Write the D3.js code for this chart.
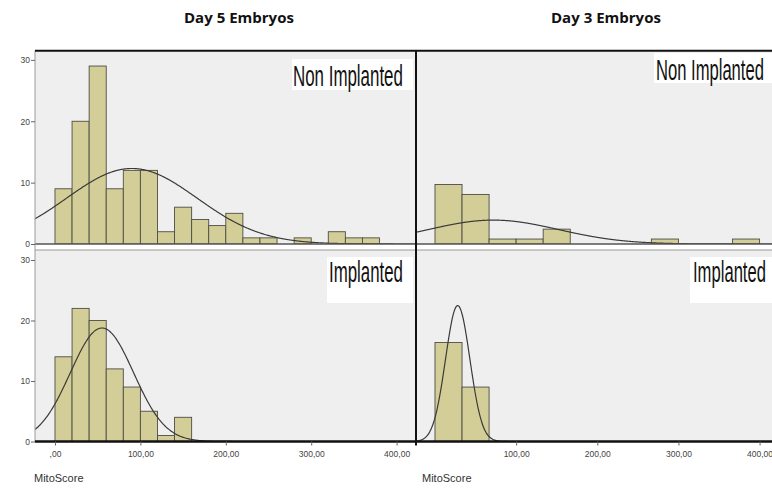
<!DOCTYPE html>
<html>
<head>
<meta charset="utf-8">
<script src="https://cdn.jsdelivr.net/npm/d3@7"></script>
<style>
  body { margin: 0; background: #fff; }
  svg { display: block; }
</style>
</head>
<body>
<svg id="chart" width="772" height="489"></svg>
<script>
// ---- data: MitoScore histograms (counts per bin, bins start at 0) ----
const xTickValues = [0, 100, 200, 300, 400];
const xTickLabels = [",00", "100,00", "200,00", "300,00", "400,00"];
const yTickValues = [0, 10, 20, 30];

const day5BinWidth = 20;
const day5NonImplanted = [9, 20, 29, 9, 12, 12, 2, 6, 4, 3, 5, 1, 1, 0, 1, 0, 2, 1, 1];
const day5Implanted = [14, 22, 20, 12, 9, 5, 1, 4];

const day3BinWidth = 400 / 12;
const day3NonImplanted = [12, 10, 1, 1, 3, 0, 0, 0, 1, 0, 0, 1];
const day3Implanted = [20, 11];

// fitted normal curves (mean, standard deviation)
const day5NonImplantedFit = [90, 76.5];
const day5ImplantedFit = [55, 37];
const day3NonImplantedFit = [72, 80];
const day3ImplantedFit = [28, 15];

const titles = ["Day 5 Embryos", "Day 3 Embryos"];
const groupLabels = ["Non Implanted", "Implanted"];
const axisTitle = "MitoScore";

// ---- layout ----
const svg = d3.select("#chart");
const xDomain = [-23.4, 422.7];
const xLeft = d3.scaleLinear().domain(xDomain).range([35, 416]);
const xRight = d3.scaleLinear().domain(xDomain).range([416, 778]);

const yLeftTop = d3.scaleLinear().domain([0, 31.5]).range([244, 50.7]);
const yLeftBottom = d3.scaleLinear().domain([0, 31.65]).range([441.5, 250]);
const yRightTop = d3.scaleLinear().domain([0, 39]).range([244, 50.7]);
const yRightBottom = d3.scaleLinear().domain([0, 38.7]).range([441.5, 250]);

const panels = [
  { id: "d5n", counts: day5NonImplanted, bw: day5BinWidth, fit: day5NonImplantedFit,
    x: xLeft, y: yLeftTop, label: groupLabels[0],
    box: [292, 59, 121, 31], text: [293, 86, 110] },
  { id: "d5i", counts: day5Implanted, bw: day5BinWidth, fit: day5ImplantedFit,
    x: xLeft, y: yLeftBottom, label: groupLabels[1],
    box: [327, 257, 86, 46], text: [329, 282, 74] },
  { id: "d3n", counts: day3NonImplanted, bw: day3BinWidth, fit: day3NonImplantedFit,
    x: xRight, y: yRightTop, label: groupLabels[0],
    box: [654, 53, 118, 30], text: [656, 79.5, 108] },
  { id: "d3i", counts: day3Implanted, bw: day3BinWidth, fit: day3ImplantedFit,
    x: xRight, y: yRightBottom, label: groupLabels[1],
    box: [690, 257, 82, 46], text: [693, 282, 73] }
];

const barFill = "#d3ce97";
const barStroke = "#4d4d45";

// text squeezed horizontally to a given width (condensed look)
function squeezedText(parent, x, y, width, str, attrs, anchorMiddle) {
  const t = parent.append("text").text(str);
  Object.entries(attrs).forEach(([k, v]) => t.attr(k, v));
  const natural = t.node().getComputedTextLength();
  const sx = width / natural;
  const left = anchorMiddle ? x - width / 2 : x;
  t.attr("transform", `translate(${left},${y}) scale(${sx},1)`);
  return t;
}

const defs = svg.append("defs");

panels.forEach(p => {
  const [x0, x1] = p.x.range();
  const [yb, yt] = p.y.range();

  defs.append("clipPath").attr("id", "clip-" + p.id)
    .append("rect").attr("x", x0).attr("y", yt).attr("width", x1 - x0).attr("height", yb - yt);

  const g = svg.append("g").attr("clip-path", `url(#clip-${p.id})`);

  // plot background
  g.append("rect")
    .attr("x", x0).attr("y", yt)
    .attr("width", x1 - x0).attr("height", yb - yt)
    .attr("fill", "#efefef");

  // histogram bars
  g.selectAll("rect.bar")
    .data(p.counts.map((c, i) => ({ c, lo: i * p.bw, hi: (i + 1) * p.bw })).filter(d => d.c > 0))
    .join("rect")
    .attr("class", "bar")
    .attr("x", d => p.x(d.lo))
    .attr("width", d => p.x(d.hi) - p.x(d.lo))
    .attr("y", d => p.y(d.c))
    .attr("height", d => p.y(0) - p.y(d.c))
    .attr("fill", barFill)
    .attr("stroke", barStroke)
    .attr("stroke-width", 0.9);

  // normal curve scaled to counts
  const n = d3.sum(p.counts);
  const [mu, sd] = p.fit;
  const pdf = v => n * p.bw / (sd * Math.sqrt(2 * Math.PI)) * Math.exp(-0.5 * ((v - mu) / sd) ** 2);
  const xs = d3.range(xDomain[0], xDomain[1] + 0.5, 1);
  g.append("path")
    .datum(xs)
    .attr("fill", "none")
    .attr("stroke", "#3a3a3a")
    .attr("stroke-width", 1.2)
    .attr("d", d3.line().x(v => p.x(v)).y(v => p.y(pdf(v))).curve(d3.curveBasis));

  // group label box
  svg.append("rect")
    .attr("x", p.box[0]).attr("y", p.box[1])
    .attr("width", p.box[2]).attr("height", p.box[3])
    .attr("fill", "#fff");
  squeezedText(svg, p.text[0], p.text[1], p.text[2], p.label, {
    "font-family": "'Liberation Sans Narrow', 'Arial Narrow', 'Liberation Sans', sans-serif",
    "font-size": 29,
    "fill": "#111"
  });
});

// ---- frame lines ----
const lineG = svg.append("g");
// row baselines of the upper panels
lineG.append("line").attr("x1", 35).attr("x2", 772)
  .attr("y1", yLeftTop(0)).attr("y2", yLeftTop(0))
  .attr("stroke", "#555").attr("stroke-width", 1.4);
// top border of lower panels
lineG.append("line").attr("x1", 35).attr("x2", 772)
  .attr("y1", yLeftBottom.range()[1]).attr("y2", yLeftBottom.range()[1])
  .attr("stroke", "#9a9a9a").attr("stroke-width", 1);
// left border
lineG.append("line").attr("x1", 35).attr("x2", 35)
  .attr("y1", yLeftTop.range()[1]).attr("y2", yLeftBottom(0))
  .attr("stroke", "#9a9a9a").attr("stroke-width", 1);
// top frame
lineG.append("line").attr("x1", 35).attr("x2", 772)
  .attr("y1", yLeftTop.range()[1]).attr("y2", yLeftTop.range()[1])
  .attr("stroke", "#111").attr("stroke-width", 2);
// divider between the two charts
lineG.append("line").attr("x1", xRight.range()[0]).attr("x2", xRight.range()[0])
  .attr("y1", yLeftTop.range()[1]).attr("y2", yLeftBottom(0) + 4)
  .attr("stroke", "#111").attr("stroke-width", 2);
// x axis line
lineG.append("line").attr("x1", 35).attr("x2", 772)
  .attr("y1", yLeftBottom(0)).attr("y2", yLeftBottom(0))
  .attr("stroke", "#111").attr("stroke-width", 2.6);

// ---- axes ----
function styleAxis(sel) {
  sel.select(".domain").remove();
  sel.selectAll(".tick line").attr("stroke", "#666");
  sel.selectAll(".tick text")
    .attr("font-family", "'Liberation Sans', Arial, sans-serif")
    .attr("font-size", 8.5)
    .attr("fill", "#444");
}

[yLeftTop, yLeftBottom].forEach(y => {
  svg.append("g")
    .attr("transform", "translate(35,0)")
    .call(d3.axisLeft(y).tickValues(yTickValues).tickSize(4).tickPadding(1).tickFormat(d3.format("d")))
    .call(styleAxis);
});

svg.append("g")
  .attr("transform", `translate(0,${yLeftBottom(0)})`)
  .call(d3.axisBottom(xLeft).tickValues(xTickValues).tickSize(4).tickPadding(5)
    .tickFormat((d, i) => xTickLabels[i]))
  .call(styleAxis);

svg.append("g")
  .attr("transform", `translate(0,${yRightBottom(0)})`)
  .call(d3.axisBottom(xRight).tickValues(xTickValues.slice(1)).tickSize(4).tickPadding(5)
    .tickFormat((d, i) => xTickLabels[i + 1]))
  .call(styleAxis);

// axis titles
[34, 422].forEach(tx => {
  svg.append("text")
    .attr("x", tx).attr("y", 482)
    .attr("font-family", "'Liberation Sans', Arial, sans-serif")
    .attr("font-size", 11)
    .attr("fill", "#333")
    .text(axisTitle);
});

// chart titles
[[239, titles[0]], [606, titles[1]]].forEach(([cx, t]) => {
  squeezedText(svg, cx, 23, 110, t, {
    "font-family": "'Open Sans', sans-serif",
    "font-weight": 700,
    "font-size": 14,
    "fill": "#111"
  }, true);
});
</script>
</body>
</html>
